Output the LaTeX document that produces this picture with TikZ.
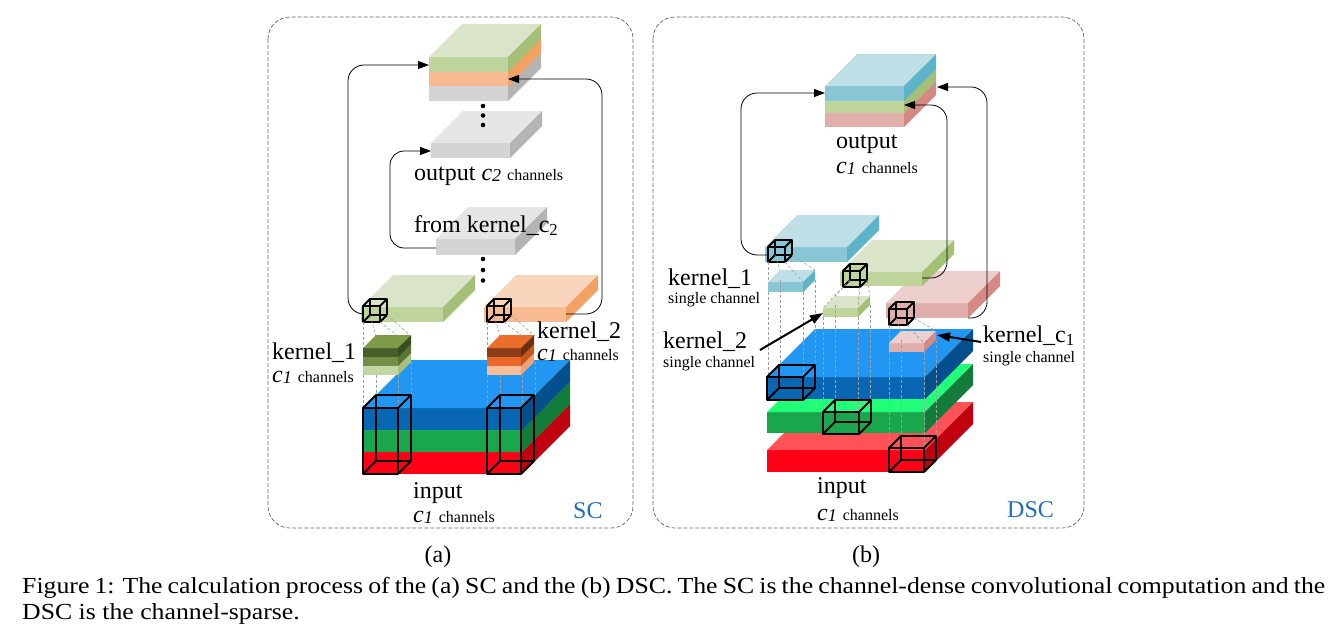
\documentclass[tikz,border=0pt]{standalone}
\usepackage{fontspec}
\setmainfont{Liberation Serif}
\newfontfamily\capfont[FakeStretch=1.12]{Liberation Serif}
\usetikzlibrary{arrows.meta}
\newcommand\bigf{\fontsize{24}{28}\selectfont}
\newcommand\smf{\fontsize{16}{18}\selectfont}
\newcommand\csub[1]{{\itshape c}{\fontsize{18}{18}\selectfont\itshape\raisebox{-1.5pt}{#1}}}
% cuboid: x y w h d top front side
\newcommand\cuboid[8]{%
 \fill[#7] (#1,#2) rectangle ++(#3,#4);
 \fill[#6] (#1,#2) -- ++(#3,0) -- ++(#5,-#5) -- ++(-#3,0) -- cycle;
 \fill[#8] (#1+#3,#2) -- ++(#5,-#5) -- ++(0,#4) -- ++(-#5,#5) -- cycle;}
% wirebox: fill-opts x y w h d
\newcommand\wirebox[6]{%
 \path[#1] (#2,#3) -- ++(0,#5) -- ++(#4,0) -- ++(#6,-#6) -- ++(0,-#5) -- ++(-#4,0) -- cycle;
 \draw[wire] (#2+#6,#3-#6) rectangle ++(#4,#5);
 \draw[wire] (#2,#3) rectangle ++(#4,#5);
 \draw[wire] (#2,#3) -- ++(#6,-#6) (#2+#4,#3) -- ++(#6,-#6) (#2,#3+#5) -- ++(#6,-#6) (#2+#4,#3+#5) -- ++(#6,-#6);}
\definecolor{gtop}{HTML}{D9E4C8}\definecolor{gfr}{HTML}{BFD49B}\definecolor{gsd}{HTML}{A4BF76}
\definecolor{otop}{HTML}{FAD5BE}\definecolor{ofr}{HTML}{F8BA90}\definecolor{osd}{HTML}{F3A064}
\definecolor{grtop}{HTML}{E6E6E6}\definecolor{grfr}{HTML}{D4D4D4}\definecolor{grsd}{HTML}{B4B4B4}
\definecolor{kgtop}{HTML}{7E9B4A}\definecolor{kg1}{HTML}{4A5E2C}\definecolor{kg1s}{HTML}{3A4B22}
\definecolor{kg2}{HTML}{728F43}\definecolor{kg2s}{HTML}{5C7535}\definecolor{kg3}{HTML}{C3D7A4}\definecolor{kg3s}{HTML}{A8C27E}
\definecolor{kotop}{HTML}{EB6E2C}\definecolor{ko1}{HTML}{8E3E16}\definecolor{ko1s}{HTML}{6E2E0E}
\definecolor{ko2}{HTML}{E96A2A}\definecolor{ko2s}{HTML}{C55820}\definecolor{ko3}{HTML}{F8BE98}\definecolor{ko3s}{HTML}{F2A070}
\definecolor{btop}{HTML}{2196F3}\definecolor{bfr}{HTML}{0866B2}\definecolor{bsd}{HTML}{05508C}
\definecolor{ingtop}{HTML}{22FF78}\definecolor{ingfr}{HTML}{1AA64C}\definecolor{ingsd}{HTML}{137C3A}
\definecolor{rtop}{HTML}{FF5257}\definecolor{rfr}{HTML}{FF0016}\definecolor{rsd}{HTML}{C0000F}
\definecolor{lbtop}{HTML}{BFDFE7}\definecolor{lbfr}{HTML}{88C6D5}\definecolor{lbsd}{HTML}{5DB3C8}
\definecolor{ptop}{HTML}{EDCFCD}\definecolor{pfr}{HTML}{E1AFAB}\definecolor{psd}{HTML}{D48984}
\definecolor{scblue}{HTML}{1F6EC1}
\tikzset{
 wire/.style={draw=black,line width=1.8pt,line join=round},
 proj/.style={draw=gray!75,dash pattern=on 3pt off 2pt,line width=0.6pt},
 arr/.style={-{Triangle[length=11pt,width=8pt]},line width=0.8pt,rounded corners=16pt},
 thickarr/.style={-{Triangle[length=13pt,width=9pt]},line width=2pt},
 panel/.style={draw=gray!80!black,dash pattern=on 4pt off 2pt,line width=0.7pt,rounded corners=22pt},
 lbl/.style={inner sep=0pt,anchor=base west,font=\bigf},
 slbl/.style={inner sep=0pt,anchor=base west,font=\smf},
 caplbl/.style={inner sep=0pt,anchor=base west,font=\capfont\fontsize{23}{26}\selectfont},
 dot/.style={fill=black}
}
\begin{document}
\begin{tikzpicture}[x=1pt,y=-1pt]
\useasboundingbox (0,0) rectangle (1339,640);
\fill[white] (0,0) rectangle (1339,640);
% ================= panel (a) =================
\draw[panel] (268,17) rectangle (633,528);
% output stack
\cuboid{429}{86}{79}{15}{33}{grtop}{grfr}{grsd}
\cuboid{429}{72}{79}{14}{33}{otop}{ofr}{osd}
\cuboid{429}{57}{79}{15}{33}{gtop}{gfr}{gsd}
% gray slabs
\cuboid{431}{143}{79}{15}{32}{grtop}{grfr}{grsd}
\foreach \yy in {106,115.5,125} \fill[dot] (483,\yy) circle (2.3);
\node[lbl] (outa) at (414,180) {output \csub{2} {\smf channels}};
\cuboid{436}{239}{79}{16}{32}{grtop}{grfr}{grsd}
\node[lbl] (fromk) at (414,232) {from kernel\_c\textsubscript{2}};
\foreach \yy in {259,270,280.5} \fill[dot] (483,\yy) circle (2.3);
% kernel output slabs
\cuboid{361}{307}{82}{15}{32}{gtop}{gfr}{gsd}
\cuboid{484}{307}{82}{15}{32}{otop}{ofr}{osd}
\wirebox{}{363}{306}{17}{16}{7}
\wirebox{}{487}{306}{17}{16}{7}
% input
\cuboid{363}{452}{159}{22}{48}{rtop}{rfr}{rsd}
\cuboid{363}{430}{159}{22}{48}{ingtop}{ingfr}{ingsd}
\cuboid{363}{408}{159}{22}{48}{btop}{bfr}{bsd}
% kernel stacks
\cuboid{363}{366}{35}{9}{13}{kg3}{kg3}{kg3s}
\cuboid{363}{357}{35}{9}{13}{kg2}{kg2}{kg2s}
\cuboid{363}{348}{35}{9}{13}{kgtop}{kg1}{kg1s}
\cuboid{487}{366}{34}{9}{13}{ko3}{ko3}{ko3s}
\cuboid{487}{357}{34}{9}{13}{ko2}{ko2}{ko2s}
\cuboid{487}{348}{34}{9}{13}{kotop}{ko1}{ko1s}
% projection lines (a)
\foreach \ox in {0,124}{
 \draw[proj] (363+\ox,322) -- (363+\ox,348);
 \draw[proj] (370+\ox,315) -- (376+\ox,336);
 \draw[proj] (380+\ox,322) -- (398+\ox,336);
 \draw[proj] (387+\ox,315) -- (411+\ox,336);
 \draw[proj] (363+\ox,375) -- (363+\ox,408);
 \draw[proj] (376+\ox,375) -- (376+\ox,395);
 \draw[proj] (398+\ox,375) -- (398+\ox,408);
 \draw[proj] (411+\ox,362) -- (411+\ox,395);
}
\wirebox{}{363}{408}{35}{66}{13}
\wirebox{}{487}{408}{34}{66}{13}
% arrows (a)
\coordinate (a1s) at (363,314); \coordinate (a1e) at (429,65);
\draw[arr] (a1s) -- (348,314) -- (348,65) -- (a1e);
\coordinate (a2s) at (566,314); \coordinate (a2e) at (508,79);
\draw[arr] (a2s) -- (602,314) -- (602,79) -- (a2e);
\coordinate (a3s) at (436,248); \coordinate (a3e) at (431,151);
\draw[arr,rounded corners=14pt] (a3s) -- (390,248) -- (390,151) -- (a3e);
% labels (a)
\node[lbl] (k1) at (272,359) {kernel\_1};
\node[lbl] (k1c) at (272,382) {\csub{1} {\smf channels}};
\node[lbl] (k2) at (537,338) {kernel\_2};
\node[lbl] (k2c) at (537,360) {\csub{1} {\smf channels}};
\node[lbl] (ina) at (413,498) {input};
\node[lbl] (inac) at (413,522) {\csub{1} {\smf channels}};
\node[lbl,text=scblue] (sc) at (573,518) {SC};
\node[lbl,anchor=base] (capa) at (438,562) {(a)};
% ================= panel (b) =================
\draw[panel] (653,17) rectangle (1084,528);
\cuboid{825}{113}{79}{14}{32}{ptop}{pfr}{psd}
\cuboid{825}{101}{79}{12}{32}{gtop}{gfr}{gsd}
\cuboid{825}{86}{79}{15}{32}{lbtop}{lbfr}{lbsd}
\node[lbl] (outb) at (836,148) {output};
\node[lbl] (outbc) at (836,173) {\csub{1} {\smf channels}};
% kernel output slabs
\cuboid{886}{303}{82}{15}{32}{ptop}{pfr}{psd}
\cuboid{840}{272}{82}{14}{32}{gtop}{gfr}{gsd}
\cuboid{765}{247}{82}{15}{32}{lbtop}{lbfr}{lbsd}
\wirebox{fill=lbfr}{768}{247}{17}{15}{7}
\wirebox{fill=gfr}{843}{271}{17}{16}{7}
\wirebox{fill=pfr}{889}{309}{18}{16}{7}
% input layers
\cuboid{767}{450}{158}{22}{48}{rtop}{rfr}{rsd}
\cuboid{767}{412}{158}{21}{48}{ingtop}{ingfr}{ingsd}
\cuboid{767}{377}{158}{22}{48}{btop}{bfr}{bsd}
% kernels
\cuboid{768}{282}{35}{10}{12}{lbtop}{lbfr}{lbsd}
\cuboid{823}{308}{35}{9}{12}{gtop}{gfr}{gsd}
\cuboid{889}{343}{35}{9}{12}{ptop}{pfr}{psd}
% projection lines (b)
\draw[proj] (768,262) -- (768,282);
\draw[proj] (785,262) -- (803,282);
\draw[proj] (775,255) -- (780,270);
\draw[proj] (792,255) -- (815,270);
\draw[proj] (768,292) -- (768,377);
\draw[proj] (780,280) -- (780,365);
\draw[proj] (803,292) -- (803,377);
\draw[proj] (815,280) -- (815,365);
\draw[proj] (843,287) -- (823,308);
\draw[proj] (860,287) -- (858,308);
\draw[proj] (850,280) -- (835,296);
\draw[proj] (867,280) -- (870,296);
\draw[proj] (823,317) -- (823,412);
\draw[proj] (835,305) -- (835,400);
\draw[proj] (858,317) -- (858,412);
\draw[proj] (870,305) -- (870,400);
\draw[proj] (889,325) -- (889,343);
\draw[proj] (907,325) -- (924,343);
\draw[proj] (896,318) -- (901,331);
\draw[proj] (914,318) -- (936,331);
\draw[proj] (889,352) -- (889,448);
\draw[proj] (901,340) -- (901,436);
\draw[proj] (924,352) -- (924,448);
\draw[proj] (936,340) -- (936,436);
\wirebox{}{767}{377}{36}{23}{12}
\wirebox{}{823}{412}{36}{22}{12}
\wirebox{}{889}{448}{35}{24}{12}
% arrows (b)
\coordinate (b1s) at (768,255); \coordinate (b1e) at (825,93);
\draw[arr] (b1s) -- (741,255) -- (741,93) -- (b1e);
\coordinate (b2s) at (922,278); \coordinate (b2e) at (904,105);
\draw[arr] (b2s) -- (947,278) -- (947,105) -- (b2e);
\coordinate (b3s) at (968,318); \coordinate (b3e) at (937,87);
\draw[arr] (b3s) -- (987,318) -- (987,87) -- (b3e);
\coordinate (t1s) at (760,350); \coordinate (t1e) at (823,313);
\draw[thickarr] (t1s) -- (t1e);
\coordinate (t2s) at (981,342); \coordinate (t2e) at (937,335);
\draw[thickarr] (t2s) -- (t2e);
% labels (b)
\node[lbl] (bk1) at (668,285) {kernel\_1};
\node[slbl] (bk1s) at (668,303) {single channel};
\node[lbl] (bk2) at (663,348) {kernel\_2};
\node[slbl] (bk2s) at (663,367) {single channel};
\node[lbl] (bk3) at (983,342) {kernel\_c\textsubscript{1}};
\node[slbl] (bk3s) at (983,362) {single channel};
\node[lbl] (inb) at (817,493) {input};
\node[lbl] (inbc) at (817,520) {\csub{1} {\smf channels}};
\node[lbl,text=scblue] (dsc) at (1007,517) {DSC};
\node[lbl,anchor=base] (capb) at (866,562) {(b)};
% caption
\node[caplbl] (cap1) at (22,593) {\makebox[1303pt][s]{Figure 1: The calculation process of the (a) SC and the (b) DSC. The SC is the channel-dense convolutional computation and the}};
\node[caplbl] (cap2) at (22,619) {DSC is the channel-sparse.};
\end{tikzpicture}
\end{document}
